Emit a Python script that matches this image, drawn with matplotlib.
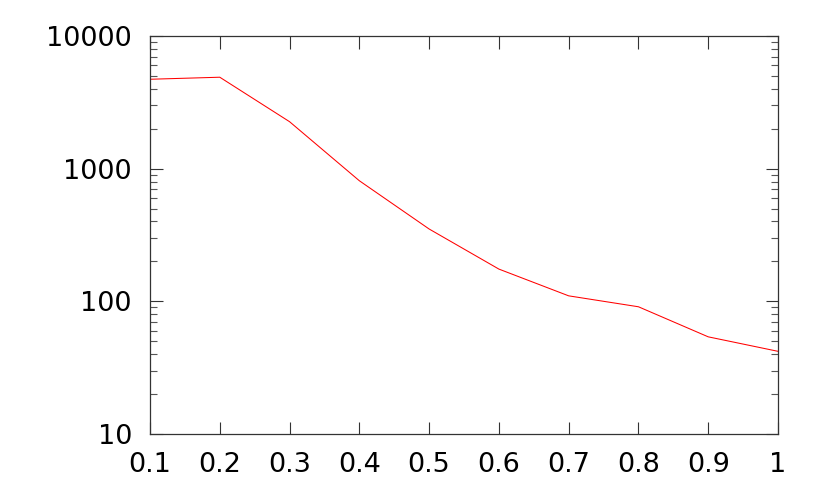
import matplotlib
matplotlib.use("Agg")
import matplotlib.pyplot as plt
from matplotlib.ticker import LogLocator, FixedLocator, NullFormatter

x_values = [0.1, 0.2, 0.3, 0.4, 0.5, 0.6, 0.7, 0.8, 0.9, 1.0]
y_values = [4720, 4890, 2260, 811, 351, 175, 110, 91, 54, 42]
x_ticks = [0.1, 0.2, 0.3, 0.4, 0.5, 0.6, 0.7, 0.8, 0.9, 1.0]
x_tick_labels = ["0.1", "0.2", "0.3", "0.4", "0.5", "0.6", "0.7", "0.8", "0.9", "1"]
y_ticks = [10, 100, 1000, 10000]
y_tick_labels = ["10", "100", "1000", "10000"]

plt.rcParams['font.family'] = ['DejaVu Sans']
fig = plt.figure(figsize=(8.3, 4.98), dpi=100)
ax = fig.add_axes([150/830, 1 - 434/498, (778-150)/830, (434-36)/498])

ax.plot(x_values, y_values, color='#ff0000', linewidth=0.75)
ax.set_yscale('log')
ax.set_xlim(0.1, 1.0)
ax.set_ylim(10, 10000)

ax.xaxis.set_major_locator(FixedLocator(x_ticks))
ax.set_xticklabels(x_tick_labels)
ax.yaxis.set_major_locator(FixedLocator(y_ticks))
ax.set_yticklabels(y_tick_labels)
ax.yaxis.set_minor_locator(LogLocator(base=10, subs=range(2, 10)))
ax.yaxis.set_minor_formatter(NullFormatter())

ax.tick_params(axis='both', which='major', direction='in', length=9, width=0.8,
               top=True, right=True, labelsize=19.5, color='#333333')
ax.tick_params(axis='y', which='major', pad=13)
ax.tick_params(axis='x', which='major', pad=13)
ax.tick_params(axis='y', which='minor', direction='in', length=5, width=0.8,
               right=True, color='#555555')
for s in ax.spines.values():
    s.set_linewidth(0.9)
    s.set_color('#333333')

fig.savefig('out.png', dpi=100)
